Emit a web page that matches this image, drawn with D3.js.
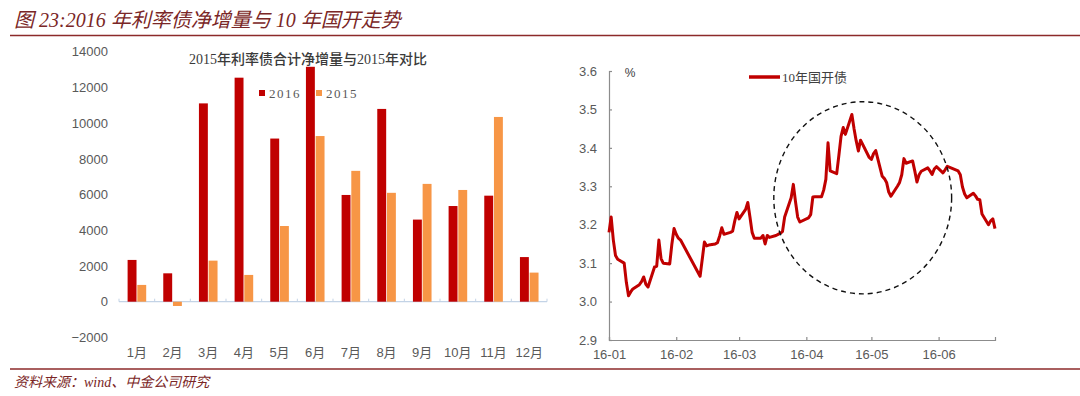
<!DOCTYPE html>
<html>
<head>
<meta charset="utf-8">
<script src="https://cdn.jsdelivr.net/npm/d3@7"></script>
<style>
  body { margin: 0; background: #fff; }
  svg { display: block; }
  .ax text { font-family: "Liberation Sans", Arial, sans-serif; font-size: 13px; fill: #595959; }
</style>
</head>
<body>
<svg id="chart" width="1080" height="396"></svg>
<script>
// left chart: monthly net issuance of rate bonds
let months = ["1月","2月","3月","4月","5月","6月","7月","8月","9月","10月","11月","12月"];
let net2016 = [2340, 1590, 11110, 12550, 9140, 13160, 5980, 10800, 4600, 5360, 5940, 2500];
let net2015 = [940, -240, 2300, 1500, 4240, 9280, 7330, 6100, 6600, 6260, 10350, 1630];
let leftTicks = [-2000, 0, 2000, 4000, 6000, 8000, 10000, 12000, 14000];

// right chart: 10y CDB yield
let cdbDates = ["2016-01-04","2016-01-05","2016-01-06","2016-01-07","2016-01-08","2016-01-11","2016-01-12","2016-01-13","2016-01-14","2016-01-15",
"2016-01-18","2016-01-19","2016-01-20","2016-01-21","2016-01-22","2016-01-25","2016-01-26","2016-01-27","2016-01-28","2016-01-29",
"2016-02-01","2016-02-02","2016-02-03","2016-02-04","2016-02-05","2016-02-06","2016-02-15","2016-02-16","2016-02-17","2016-02-18","2016-02-19",
"2016-02-22","2016-02-23","2016-02-24","2016-02-25","2016-02-26","2016-02-29","2016-03-01","2016-03-02","2016-03-03","2016-03-04",
"2016-03-07","2016-03-08","2016-03-09","2016-03-10","2016-03-11","2016-03-14","2016-03-15","2016-03-16","2016-03-17","2016-03-18",
"2016-03-21","2016-03-22","2016-03-23","2016-03-24","2016-03-25","2016-03-28","2016-03-29","2016-03-30","2016-03-31","2016-04-01",
"2016-04-05","2016-04-06","2016-04-07","2016-04-08","2016-04-11","2016-04-12","2016-04-13","2016-04-14","2016-04-15",
"2016-04-18","2016-04-19","2016-04-20","2016-04-21","2016-04-22","2016-04-25","2016-04-26","2016-04-27","2016-04-28","2016-04-29",
"2016-05-03","2016-05-04","2016-05-05","2016-05-06","2016-05-09","2016-05-10","2016-05-11","2016-05-12","2016-05-13",
"2016-05-16","2016-05-17","2016-05-18","2016-05-19","2016-05-20","2016-05-23","2016-05-24","2016-05-25","2016-05-26","2016-05-27",
"2016-05-30","2016-05-31","2016-06-01","2016-06-02","2016-06-03","2016-06-06","2016-06-07","2016-06-08",
"2016-06-13","2016-06-14","2016-06-15","2016-06-16","2016-06-17","2016-06-20","2016-06-21","2016-06-22","2016-06-23","2016-06-24",
"2016-06-27","2016-06-28","2016-06-29","2016-06-30"];
let cdbYield = [3.180,3.220,3.160,3.120,3.110,3.100,3.050,3.015,3.025,3.033,
3.044,3.052,3.064,3.045,3.038,3.090,3.092,3.160,3.112,3.100,
3.098,3.150,3.190,3.175,3.165,3.160,3.066,3.110,3.155,3.145,3.147,
3.150,3.153,3.170,3.192,3.175,3.180,3.183,3.210,3.232,3.215,
3.240,3.258,3.220,3.180,3.165,3.165,3.172,3.150,3.172,3.167,
3.172,3.175,3.178,3.182,3.220,3.270,3.305,3.260,3.220,3.207,
3.218,3.226,3.272,3.273,3.273,3.290,3.318,3.413,3.340,
3.333,3.380,3.430,3.453,3.435,3.487,3.450,3.418,3.392,3.420,
3.375,3.370,3.385,3.393,3.326,3.320,3.310,3.285,3.274,
3.300,3.310,3.330,3.372,3.360,3.366,3.340,3.311,3.330,3.339,
3.348,3.340,3.331,3.345,3.351,3.335,3.343,3.352,
3.340,3.330,3.298,3.280,3.270,3.282,3.275,3.266,3.265,3.228,
3.200,3.210,3.215,3.190];
let rightTicks = [2.9, 3.0, 3.1, 3.2, 3.3, 3.4, 3.5, 3.6];
let monthTickLabels = ["16-01","16-02","16-03","16-04","16-05","16-06"];
// dashed ellipse around the spring rally: centre date/yield and half extents
let ringCentre = ["2016-04-30", 3.27];
let ringHalf = [41, 0.25];

let svg = d3.select("#chart");
let red = "#c00000", orange = "#f79646", frame = "#8c2a2a";
let parse = d3.timeParse("%Y-%m-%d");

// header and footer
svg.append("text").attr("x", 14).attr("y", 27)
   .attr("font-family", "'Liberation Serif','Noto Sans CJK SC',serif")
   .attr("font-style", "italic").attr("font-size", 20).attr("fill", "#7a2626")
   .text("图 23:2016 年利率债净增量与 10 年国开走势");
svg.append("line").attr("x1", 10).attr("x2", 1080).attr("y1", 35.5).attr("y2", 35.5)
   .attr("stroke", frame).attr("stroke-width", 1.5);
svg.append("line").attr("x1", 10).attr("x2", 1080).attr("y1", 369).attr("y2", 369)
   .attr("stroke", frame).attr("stroke-width", 1.5);
svg.append("text").attr("x", 14).attr("y", 387)
   .attr("font-family", "'Liberation Serif','Noto Sans CJK SC',serif")
   .attr("font-style", "italic").attr("font-size", 14).attr("fill", "#7a2626")
   .text("资料来源：wind、中金公司研究");

// ---------- left chart ----------
let x0 = d3.scaleBand().domain(months).range([119, 547]);
let x1 = d3.scaleBand().domain(["2016", "2015"]).range([8.6, 27.2]).paddingInner(0.08);
let yL = d3.scaleLinear().domain([-2000, 14000]).range([337.4, 51.8]);

let yAxisL = svg.append("g").attr("class", "ax").attr("transform", "translate(112,0)")
   .call(d3.axisLeft(yL).tickValues(leftTicks).tickSize(0).tickPadding(4).tickFormat(d3.format("d")));
yAxisL.select(".domain").remove();

let zero = svg.append("g").attr("transform", "translate(0," + yL(0) + ")");
zero.append("line").attr("x1", 119).attr("x2", 547).attr("stroke", "#c3d3e6").attr("stroke-width", 1.2);
zero.selectAll("line.tk").data(d3.range(13)).enter().append("line").attr("class", "tk")
   .attr("x1", (d) => 119 + d * x0.bandwidth()).attr("x2", (d) => 119 + d * x0.bandwidth())
   .attr("y1", -3).attr("y2", 0).attr("stroke", "#c3d3e6");

let groups = svg.selectAll("g.month").data(months).enter().append("g").attr("class", "month")
   .attr("transform", (d) => "translate(" + x0(d) + ",0)");
groups.append("rect").attr("x", x1("2016")).attr("width", x1.bandwidth())
   .attr("y", (d, i) => yL(Math.max(0, net2016[i])))
   .attr("height", (d, i) => Math.abs(yL(net2016[i]) - yL(0)))
   .attr("fill", red);
groups.append("rect").attr("x", x1("2015")).attr("width", x1.bandwidth())
   .attr("y", (d, i) => yL(Math.max(0, net2015[i])))
   .attr("height", (d, i) => Math.abs(yL(net2015[i]) - yL(0)))
   .attr("fill", orange);

let monthAxis = svg.append("g").attr("class", "ax").attr("transform", "translate(0,342)")
   .call(d3.axisBottom(x0).tickSize(0).tickPadding(6));
monthAxis.select(".domain").remove();
monthAxis.selectAll("text").style("font-family", "'Liberation Sans','Noto Sans CJK SC',sans-serif");

svg.append("text").attr("x", 308).attr("y", 64).attr("text-anchor", "middle")
   .attr("font-family", "'Liberation Serif','Noto Sans CJK SC',serif")
   .attr("font-size", 14).attr("font-weight", 500).attr("fill", "#3a3a3a")
   .text("2015年利率债合计净增量与2015年对比");

let legL = svg.selectAll("g.legL").data([["2016", red], ["2015", orange]]).enter().append("g")
   .attr("class", "legL").attr("transform", (d, i) => "translate(" + (259 + i * 57) + ",90)");
legL.append("rect").attr("width", 6).attr("height", 6).attr("fill", (d) => d[1]);
legL.append("text").attr("x", 10).attr("y", 8).attr("font-family", "'Liberation Serif',serif")
   .attr("font-size", 13).attr("letter-spacing", 1.5).attr("fill", "#595959").text((d) => d[0]);

// ---------- right chart ----------
let start = parse(cdbDates[0]);
let xR = d3.scaleTime().domain([start, parse(cdbDates[cdbDates.length - 1])]).range([609, 995]);
let yR = d3.scaleLinear().domain([2.9, 3.6]).range([340, 71]);
let monthTicks = monthTickLabels.map((d, i) => d3.timeMonth.offset(start, i));

let yAxisR = svg.append("g").attr("class", "ax").attr("transform", "translate(609,0)")
   .call(d3.axisRight(yR).tickValues(rightTicks).tickSize(3).tickFormat(d3.format(".1f")));
yAxisR.selectAll("text").attr("x", -12).attr("text-anchor", "end");
yAxisR.selectAll("line, .domain").attr("stroke", "#8c8c8c").attr("stroke-width", 1.2);

let xAxisR = svg.append("g").attr("class", "ax").attr("transform", "translate(0,340)")
   .call(d3.axisTop(xR).tickValues(monthTicks).tickSize(3).tickFormat((d, i) => monthTickLabels[i]));
xAxisR.selectAll("text").attr("y", 19);
xAxisR.selectAll("line, .domain").attr("stroke", "#8c8c8c").attr("stroke-width", 1.2);

svg.append("text").attr("x", 630).attr("y", 77).attr("text-anchor", "middle")
   .attr("font-family", "'Liberation Sans',sans-serif").attr("font-size", 12).attr("fill", "#404040").text("%");

let line = d3.line().x((d, i) => xR(parse(cdbDates[i]))).y((d) => yR(d));
svg.append("path").datum(cdbYield).attr("d", line)
   .attr("fill", "none").attr("stroke", red).attr("stroke-width", 3).attr("stroke-linejoin", "round");

let cx = xR(parse(ringCentre[0])), cy = yR(ringCentre[1]);
svg.append("ellipse").attr("cx", cx).attr("cy", cy)
   .attr("rx", xR(d3.timeDay.offset(parse(ringCentre[0]), ringHalf[0])) - cx)
   .attr("ry", yR(ringCentre[1] - ringHalf[1]) - cy)
   .attr("fill", "none").attr("stroke", "#111").attr("stroke-width", 1.4).attr("stroke-dasharray", "5,4");

svg.append("line").attr("x1", 749).attr("x2", 780).attr("y1", 77).attr("y2", 77)
   .attr("stroke", red).attr("stroke-width", 3.5);
svg.append("text").attr("x", 782).attr("y", 82)
   .attr("font-family", "'Liberation Serif','Noto Sans CJK SC',serif")
   .attr("font-size", 13).attr("fill", "#404040").text("10年国开债");
</script>
</body>
</html>
